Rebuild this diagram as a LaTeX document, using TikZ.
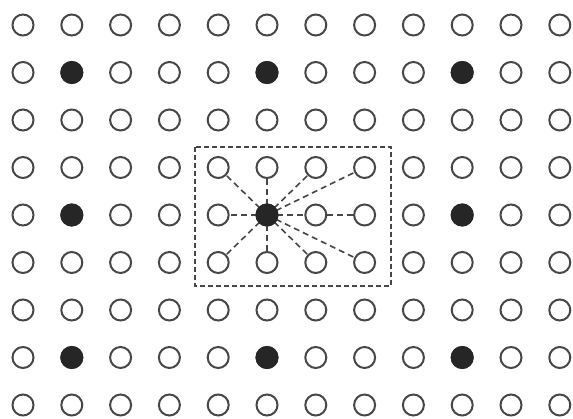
\documentclass[tikz,border=0pt]{standalone}
\begin{document}
\begin{tikzpicture}[x=1pt,y=-1pt,
  site/.style={circle,draw=black!72,line width=2pt,fill=white,minimum size=21pt,inner sep=0pt},
  atom/.style={circle,draw=black!85,fill=black!85,line width=2pt,minimum size=21pt,inner sep=0pt},
  bond/.style={draw=black!72,line width=1.6pt,dash pattern=on 6pt off 4pt},
  frame/.style={draw=black!72,line width=1.4pt,dash pattern=on 5pt off 3pt}]
\useasboundingbox[fill=white] (0,0) rectangle (573,419);
% dashed box
\draw[frame] (195,147) rectangle (391,286);
% lines from centre
\coordinate (cc) at ({23+48.8*5},{25+47.5*4});
\foreach \i/\j in {4/3,5/3,6/3,7/3,4/4,6/4,7/4,4/5,5/5,6/5,7/5}
  \draw[bond] (cc) -- ({23+48.8*\i},{25+47.5*\j});
% lattice
\foreach \i in {0,...,11}
  \foreach \j in {0,...,8}
    \node[site] (s-\i-\j) at ({23+48.8*\i},{25+47.5*\j}) {};
\foreach \i in {1,5,9}
  \foreach \j in {1,4,7}
    \node[atom] (a-\i-\j) at ({23+48.8*\i},{25+47.5*\j}) {};
\end{tikzpicture}
\end{document}
